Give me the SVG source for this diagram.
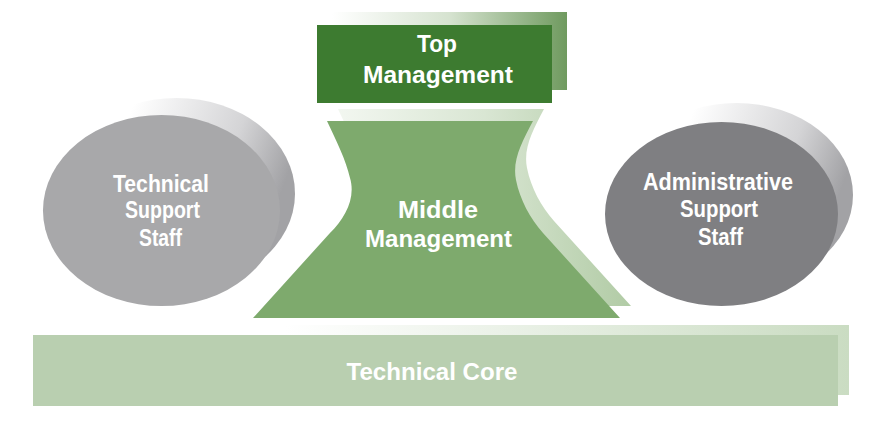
<svg xmlns="http://www.w3.org/2000/svg" width="893" height="436" viewBox="0 0 893 436">
  <defs>
    <linearGradient id="gTopSh" x1="0" y1="0" x2="1" y2="0">
      <stop offset="0" stop-color="#ffffff"/>
      <stop offset="0.5" stop-color="#d6e3d0"/>
      <stop offset="1" stop-color="#6f9a5f"/>
    </linearGradient>
    <linearGradient id="gMidSh" x1="0" y1="0" x2="1" y2="0">
      <stop offset="0" stop-color="#ffffff"/>
      <stop offset="0.6" stop-color="#d9e6d3"/>
      <stop offset="1" stop-color="#b1cba5"/>
    </linearGradient>
    <linearGradient id="gEllSh" x1="0" y1="0" x2="1" y2="0.3">
      <stop offset="0.3" stop-color="#ffffff"/>
      <stop offset="0.75" stop-color="#d4d4d6"/>
      <stop offset="1" stop-color="#a2a2a5"/>
    </linearGradient>
    <linearGradient id="gCoreSh" x1="0" y1="0" x2="1" y2="0">
      <stop offset="0.3" stop-color="#ffffff"/>
      <stop offset="1" stop-color="#cadcc2"/>
    </linearGradient>
    <style>
      .lbl { font-family: "Liberation Sans", Arial, sans-serif; font-weight: bold; font-size: 23px; fill: #ffffff; text-anchor: middle; }
    </style>
  </defs>
  <rect width="893" height="436" fill="#ffffff"/>

  <g id="technical-core">
    <rect x="44" y="325" width="805" height="70" fill="url(#gCoreSh)"/>
    <rect x="33" y="335" width="805" height="71" fill="#b9cfb0"/>
    <text class="lbl" x="432" y="380" textLength="171" lengthAdjust="spacingAndGlyphs">Technical Core</text>
  </g>

  <g id="technical-support-staff">
    <ellipse cx="176.5" cy="193.5" rx="118.5" ry="95.5" fill="url(#gEllSh)"/>
    <ellipse cx="161.5" cy="210.5" rx="118.5" ry="95.5" fill="#a8a8aa"/>
    <text class="lbl" x="161" y="192" textLength="96" lengthAdjust="spacingAndGlyphs">Technical</text>
    <text class="lbl" x="162.5" y="218" textLength="75" lengthAdjust="spacingAndGlyphs">Support</text>
    <text class="lbl" x="160.5" y="246" textLength="43" lengthAdjust="spacingAndGlyphs">Staff</text>
  </g>

  <g id="administrative-support-staff">
    <ellipse cx="736.5" cy="195" rx="116.5" ry="92" fill="url(#gEllSh)"/>
    <ellipse cx="721.5" cy="214" rx="116.5" ry="92" fill="#7f7f82"/>
    <text class="lbl" x="718" y="190" textLength="150" lengthAdjust="spacingAndGlyphs">Administrative</text>
    <text class="lbl" x="719" y="217" textLength="78" lengthAdjust="spacingAndGlyphs">Support</text>
    <text class="lbl" x="720.5" y="245" textLength="45" lengthAdjust="spacingAndGlyphs">Staff</text>
  </g>

  <g id="middle-management">
    <path transform="translate(11,-12)" d="M327,121 L533,121 C522,142 512,160 516,180 C520,200 530,218 543,233 L620,318 L253,318 L330,233 C345,218 356,198 350,178 C346,160 336,140 327,121 Z" fill="url(#gMidSh)"/>
    <path d="M327,121 L533,121 C522,142 512,160 516,180 C520,200 530,218 543,233 L620,318 L253,318 L330,233 C345,218 356,198 350,178 C346,160 336,140 327,121 Z" fill="#7eaa6d"/>
    <text class="lbl" x="438" y="218" textLength="80" lengthAdjust="spacingAndGlyphs">Middle</text>
    <text class="lbl" x="438.5" y="247" textLength="147" lengthAdjust="spacingAndGlyphs">Management</text>
  </g>

  <g id="top-management">
    <rect x="332" y="12" width="235" height="78" fill="url(#gTopSh)"/>
    <rect x="317" y="25" width="235" height="78" fill="#3d7b30"/>
    <text class="lbl" x="437" y="52" textLength="40" lengthAdjust="spacingAndGlyphs">Top</text>
    <text class="lbl" x="438" y="83" textLength="150" lengthAdjust="spacingAndGlyphs">Management</text>
  </g>

  <g id="connectors"/>
</svg>
